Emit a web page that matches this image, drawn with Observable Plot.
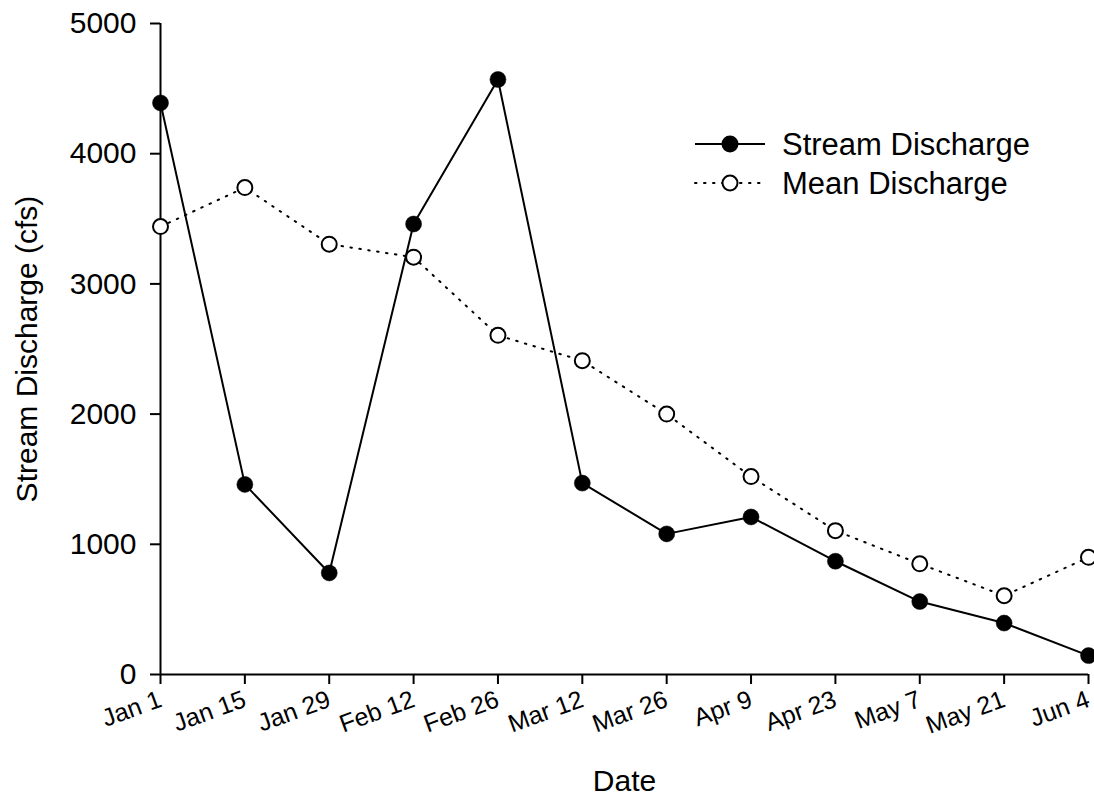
<!DOCTYPE html>
<html>
<head>
<meta charset="utf-8">
<script src="https://cdn.jsdelivr.net/npm/d3@7"></script>
<script src="https://cdn.jsdelivr.net/npm/@observablehq/plot@0.6"></script>
<style>
  html, body { margin: 0; padding: 0; background: #fff; }
  #chart { position: relative; width: 1094px; height: 798px; font-family: "Liberation Sans", Arial, sans-serif; }
  #legend { position: absolute; left: 0; top: 0; }
</style>
</head>
<body>
<div id="chart"></div>
<script>
// ---- data ----
const dateLabels = ["Jan 1", "Jan 15", "Jan 29", "Feb 12", "Feb 26", "Mar 12", "Mar 26", "Apr 9", "Apr 23", "May 7", "May 21", "Jun 4"];
const streamDischarge = [4390, 1460, 780, 3460, 4570, 1470, 1080, 1210, 870, 560, 395, 145];
const meanDischarge = [3440, 3740, 3305, 3205, 2605, 2410, 2000, 1520, 1105, 850, 605, 900];
const yTicks = [0, 1000, 2000, 3000, 4000, 5000];
const seriesNames = ["Stream Discharge", "Mean Discharge"];

const parse = d3.utcParse("%b %d %Y");
const dates = dateLabels.map(s => parse(s + " 2001"));
const stream = dates.map((d, i) => ({date: d, value: streamDischarge[i]}));
const mean = dates.map((d, i) => ({date: d, value: meanDischarge[i]}));

const font = "Liberation Sans, Arial, sans-serif";

const chart = Plot.plot({
  width: 1094,
  height: 798,
  marginLeft: 160,
  marginRight: 6,
  marginTop: 23,
  marginBottom: 124,
  style: {fontFamily: font, color: "#000", background: "#fff"},
  x: {type: "utc", domain: [dates[0], dates[dates.length - 1]]},
  y: {domain: [0, 5000]},
  marks: [
    Plot.axisY({ticks: yTicks, tickSize: 10, tickPadding: 14, fontSize: 30, label: null, strokeWidth: 2, tickFormat: d => String(d)}),
    Plot.axisX({ticks: dates, tickSize: 10, tickRotate: -20, tickPadding: 14, fontSize: 25, label: null, strokeWidth: 2,
      tickFormat: d => dateLabels[dates.findIndex(x => +x === +d)]}),
    Plot.ruleY([0], {stroke: "#000", strokeWidth: 2}),
    Plot.ruleX([dates[0]], {stroke: "#000", strokeWidth: 2}),
    Plot.line(mean, {x: "date", y: "value", stroke: "#000", strokeWidth: 2, strokeDasharray: "1.5,7.5", strokeLinecap: "round"}),
    Plot.line(stream, {x: "date", y: "value", stroke: "#000", strokeWidth: 2}),
    Plot.dot(mean, {x: "date", y: "value", r: 7.5, fill: "#fff", stroke: "#000", strokeWidth: 2}),
    Plot.dot(stream, {x: "date", y: "value", r: 8, fill: "#000", stroke: "#000", strokeWidth: 0.5}),
    Plot.text(["Date"], {frameAnchor: "bottom", dy: 116, lineAnchor: "bottom", fontSize: 30, fill: "#000"}),
    Plot.text(["Stream Discharge (cfs)"], {frameAnchor: "left", dx: -124, rotate: -90, textAnchor: "middle", lineAnchor: "bottom", fontSize: 30, fill: "#000"})
  ]
});

const container = document.getElementById("chart");
container.appendChild(chart);

// ---- legend ----
const legend = d3.select(container).append("svg")
  .attr("id", "legend")
  .attr("width", 1094).attr("height", 798)
  .style("pointer-events", "none");
const rows = [
  {name: seriesNames[0], y: 144, dash: null, fill: "#000"},
  {name: seriesNames[1], y: 183, dash: "1.5,7.5", fill: "#fff"}
];
rows.forEach(r => {
  const g = legend.append("g");
  g.append("line").attr("x1", 695).attr("x2", 765).attr("y1", r.y).attr("y2", r.y)
    .attr("stroke", "#000").attr("stroke-width", 2)
    .attr("stroke-dasharray", r.dash).attr("stroke-linecap", r.dash ? "round" : "butt");
  g.append("circle").attr("cx", 730).attr("cy", r.y).attr("r", 7.5)
    .attr("fill", r.fill).attr("stroke", "#000").attr("stroke-width", 2);
  g.append("text").attr("x", 782).attr("y", r.y).attr("dy", "0.35em")
    .attr("font-family", font).attr("font-size", 31).attr("fill", "#000").text(r.name);
});
</script>
</body>
</html>
